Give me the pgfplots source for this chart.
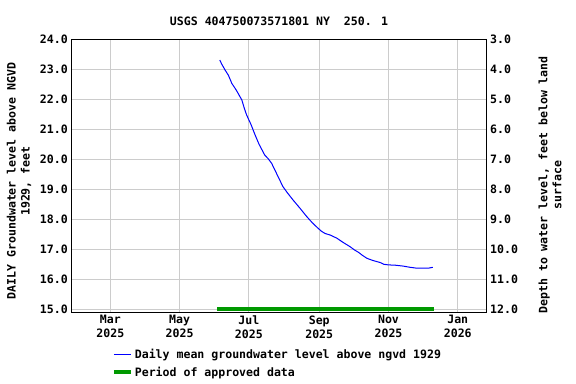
\documentclass[border=0pt]{standalone}
\usepackage{pgfplots}
\pgfplotsset{compat=1.18}
\usepackage{fontspec}
\setmainfont{DejaVu Sans Mono}
\newcommand{\f}{\fontsize{11.6}{14}\selectfont\bfseries}
\definecolor{gridgray}{RGB}{204,204,204}
\definecolor{usgsgreen}{RGB}{0,153,0}
\definecolor{usgsblue}{RGB}{0,0,255}
\begin{document}
\begin{tikzpicture}
\path[use as bounding box] (0,0) rectangle (576bp,384bp);
\begin{axis}[
  at={(71.3bp,72bp)}, anchor=south west,
  scale only axis, width=415.4bp, height=272.7bp,
  xmin=24.6, xmax=390.5, ymin=14.91, ymax=24,
  xtick={59,120,181,243,304,365},
  xticklabels={Mar\\2025,May\\2025,Jul\\2025,Sep\\2025,Nov\\2025,Jan\\2026},
  xticklabel style={align=center, font=\f},
  ytick={15,16,...,24},
  yticklabel style={font=\f, /pgf/number format/.cd, fixed, fixed zerofill, precision=1},
  /pgf/number format/assume math mode=true,
  major tick length=0pt,
  grid=major,
  major grid style={gridgray, line width=1bp},
  axis line style={black, line width=0.8bp},
  ylabel={DAILY Groundwater level above NGVD\\1929, feet},
  ylabel style={align=center, font=\f, at={(axis description cs:-0.1259,0.48)}, anchor=center},
  title={USGS 404750073571801 NY\ \ 250. 1},
  title style={font=\f, yshift=4bp},
  legend style={draw=none, fill=none, font=\f, at={(axis description cs:0.09,-0.122)}, anchor=north west, cells={anchor=west}, row sep=2.5bp},
]
\addplot[usgsblue, line width=1bp] coordinates {
(155.4,23.31) (157,23.18) (160,22.98) (163,22.80) (166,22.53) (170,22.30) (174.8,21.98)
(177,21.70) (179,21.48) (183,21.15) (186.5,20.81) (190,20.50) (195,20.14) (198,20.02)
(201,19.87) (206,19.48) (211,19.09) (215,18.88) (220,18.64) (226,18.37) (232,18.09)
(237,17.88) (242,17.70) (245,17.60) (248,17.53) (253,17.47) (258.5,17.37) (264,17.23)
(270,17.09) (274,16.98) (277.5,16.90) (281,16.80) (285,16.70) (290,16.63) (296.6,16.56)
(300,16.50) (304,16.48) (310,16.47) (317,16.44) (323,16.40) (329,16.37) (334,16.37)
(339,16.37) (343,16.40)};
\addlegendentry{Daily mean groundwater level above ngvd 1929}
\addplot[usgsgreen, line width=4bp] coordinates {(153,15.0) (344,15.0)};
\addlegendentry{Period of approved data}
\end{axis}
\begin{axis}[
  at={(71.3bp,72bp)}, anchor=south west,
  scale only axis, width=415.4bp, height=272.7bp,
  xmin=24.6, xmax=390.5, ymin=3, ymax=12.09, y dir=reverse,
  axis x line=none, axis y line*=right,
  ytick={3,4,...,12},
  yticklabel style={font=\f, /pgf/number format/.cd, fixed, fixed zerofill, precision=1},
  /pgf/number format/assume math mode=true,
  major tick length=0pt,
  axis line style={black, line width=0.8bp},
  ylabel={Depth to water level, feet below land\\surface},
  ylabel style={align=center, font=\f, at={(axis description cs:1.1524,0.466)}, anchor=center},
]
\addplot[draw=none] coordinates {(100,5)};
\end{axis}
\end{tikzpicture}
\end{document}
